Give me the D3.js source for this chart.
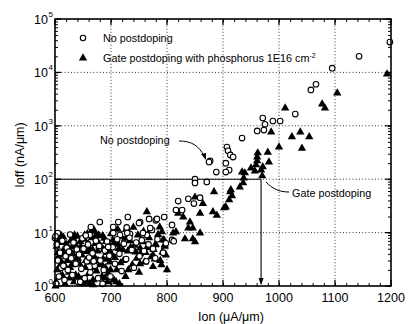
<!DOCTYPE html>
<html><head><meta charset="utf-8">
<script src="https://cdn.jsdelivr.net/npm/d3@7"></script>
<style>body{margin:0;background:#fff}svg{display:block;font-family:"Liberation Sans",Arial,sans-serif}</style>
</head><body><svg id="c" width="410" height="324"></svg>
<script>
// ---- data ----
const xTicks = [600,700,800,900,1000,1100,1200];
const yExps = [0,1,2,3,4,5];
const legendLabels = ["No postdoping","Gate postdoping with phosphorus 1E16 cm"];
// No postdoping (open circles): Ion (uA/um), Ioff (nA/um)
const noIon = [1198,1143,1095,1066,1057,1029,971,975,989,1002,961,973,934,907,909,913,918,905,911,905,877,888,871,875,
 850,850,820,838,848,859,816,827,768,780,795,752,809,773,764,809,730,750,782,770,757,812,
 680,664,662,704,704,723,734,716,729,605,600,713,728,
 601,603,605,607,609,611,613,617,619,621,623,627,629,631,633,637,639,641,643,647,649,651,653,657,659,661,663,667,671,673,677,679,681,687,689,693,697,699,703,707,711,715,719,723,727,733,737,741,745,751,755,759,763,767,775,779,783,793,798,
 602,615,625,645,655,669,685,695];
const noIoff = [37000,20000,12000,6000,4700,1660,1400,1070,1230,1230,800,830,590,400,340,285,260,200,148,136,220,136,89,210,
 100,85,39,43,35,45,26.5,26.5,18,17,19.6,15.8,13.9,11.2,9.0,7.3,19.6,15.1,18,12.2,9.8,6.9,
 15.8,12.7,9.0,12.7,9.8,9.4,9.4,9.0,9.8,9.8,7.9,15.8,12.5,
 8.5,6.0,3.0,1.5,4.2,2.2,7.0,1.3,3.6,5.2,2.0,9.2,3.3,1.6,6.5,2.6,4.8,1.2,3.9,2.1,7.8,5.0,1.4,2.9,6.0,3.4,1.8,4.1,2.4,7.0,1.4,5.6,3.0,2.0,4.6,6.8,3.7,1.5,5.3,2.6,7.5,4.0,1.9,6.2,3.2,8.0,4.7,2.2,6.5,3.6,7.2,4.5,2.9,6.0,5.0,3.3,7.5,4.2,6.3,
 1.1,2.4,4.4,1.2,8.8,2.9,1.1,5.4];
// Gate postdoping (filled triangles)
const gpIon = [1193,1104,1077,1082,1011,986,1038,1023,1054,1041,1000,980,982,962,961,961,971,968,959,957,950,939,934,937,936,930,970,
 914,916,884,913,911,905,850,864,859,882,889,764,841,838,846,859,832,846,850,816,811,787,791,793,796,779,757,752,798,775,752,775,800,829,902,820,
 602,604,606,603,608,610,612,614,616,618,620,615,
 622,624,626,628,630,632,634,636,638,640,625,635,
 642,644,646,648,650,652,654,656,658,645,655,660,
 662,664,666,668,670,672,674,676,678,665,670,680,675,668,
 682,684,686,688,690,692,694,696,698,700,685,695,
 702,706,710,714,718,722,726,730,734,738,742,746,748,712,728,740,705,
 752,756,760,764,768,772,776,780,784,788,792,796,758,770,790,
 601,605,609,613,617,621,627,631,637,641,647,651,657,659,663,667,671,673,677,679,683,687,689,691,693,697,699,
 703,707,709,713,717,721,725,731,735,744,750,762,778,795,606,611,619,633,653,662,686,715];
const gpIoff = [9300,4100,2550,2150,2150,760,760,620,620,380,400,320,210,310,260,220,170,148,185,142,162,131,136,105,85,71,115,
 63,49,58,58,41,30,46,35,23,24.5,21,24.5,15.8,12.2,12.2,9.8,7.6,7.6,6.7,10.3,9.8,12.7,10.3,7.3,5.9,5.9,6.7,5.1,3.8,3.8,2.6,2.3,2.0,19.6,29,23,
 1.2,2.0,3.5,5.5,7.5,1.5,2.8,4.5,6.5,1.1,2.2,8.2,
 3.0,5.0,1.4,7.0,2.5,4.0,1.2,6.0,3.3,8.5,1.8,9.0,
 1.5,2.6,5.5,3.8,1.1,7.5,2.2,4.4,9.5,6.8,3.0,1.7,
 5.0,2.8,8.0,1.3,3.6,6.2,1.9,4.5,9.0,10.5,11,2.5,7.2,1.05,
 5.5,1.5,3.2,7.8,2.2,4.2,1.2,6.0,2.8,9.5,8.7,1.7,
 3.8,6.5,2.0,5.0,8.5,3.0,1.5,4.5,7.0,2.5,5.8,3.3,9.0,11.5,12,12.5,1.3,
 4.0,6.8,2.8,5.2,8.0,3.5,4.8,6.0,9.2,3.0,4.3,5.5,10.5,11,2.5,
 1.0,4.2,2.4,1.6,3.8,6.0,2.2,5.4,1.6,3.3,1.3,4.8,1.2,6.2,3.4,4.8,2.2,8.8,3.0,5.6,2.6,4.8,1.4,6.8,3.2,4.6,2.0,
 7.2,3.4,1.2,6.0,2.7,4.8,7.8,2.0,5.3,4.3,1.8,4.2,3.2,7.2,6.6,8.8,5.0,7.6,9.0,1.1,1.1,1.1];
// annotation guide: Ioff = 100 at Ion = 968
const guideIon = 968, guideIoff = 100;

// ---- layout ----
const svg = d3.select("#c");
const L=55,R=391,T=19,B=286;
const x = d3.scaleLinear().domain([600,1200]).range([L,R]);
const y = d3.scaleLog().domain([1,1e5]).range([B,T]);

// grid
const g = svg.append("g");
xTicks.slice(1,-1).forEach(v=>g.append("line").attr("x1",x(v)).attr("x2",x(v)).attr("y1",T).attr("y2",B)
  .attr("stroke","#000").attr("stroke-width",0.8).attr("stroke-dasharray","1,2.2"));
yExps.slice(1,-1).forEach(e=>g.append("line").attr("x1",L).attr("x2",R).attr("y1",y(10**e)).attr("y2",y(10**e))
  .attr("stroke","#000").attr("stroke-width",0.8).attr("stroke-dasharray","1,2.2"));

// axes with inside ticks
const minorX = d3.range(600,1201,20);
const axB = d3.axisBottom(x).tickValues(minorX).tickSizeInner(-3).tickSizeOuter(0).tickFormat("");
const axT = d3.axisTop(x).tickValues(minorX).tickSizeInner(-3).tickSizeOuter(0).tickFormat("");
const minorY = [];
for(let e=0;e<5;e++) for(let k=1;k<10;k++) minorY.push(k*10**e);
minorY.push(1e5);
const axL = d3.axisLeft(y).tickValues(minorY).tickSizeInner(-3).tickSizeOuter(0).tickFormat("");
const axR = d3.axisRight(y).tickValues(minorY).tickSizeInner(-3).tickSizeOuter(0).tickFormat("");
[[axB,`translate(0,${B})`],[axT,`translate(0,${T})`],[axL,`translate(${L},0)`],[axR,`translate(${R},0)`]].forEach(([a,t])=>{
  const gg = svg.append("g").attr("transform",t).call(a);
  gg.select(".domain").remove();
  gg.selectAll("line").attr("stroke","#000").attr("stroke-width",1);
});
xTicks.forEach(v=>{
  svg.append("line").attr("x1",x(v)).attr("x2",x(v)).attr("y1",B).attr("y2",B-6).attr("stroke","#000").attr("stroke-width",1.2);
  svg.append("line").attr("x1",x(v)).attr("x2",x(v)).attr("y1",T).attr("y2",T+6).attr("stroke","#000").attr("stroke-width",1.2);
});
yExps.forEach(e=>{
  svg.append("line").attr("x1",L).attr("x2",L+6).attr("y1",y(10**e)).attr("y2",y(10**e)).attr("stroke","#000").attr("stroke-width",1.2);
  svg.append("line").attr("x1",R).attr("x2",R-6).attr("y1",y(10**e)).attr("y2",y(10**e)).attr("stroke","#000").attr("stroke-width",1.2);
});

// tick labels
xTicks.forEach(v=>svg.append("text").attr("x",x(v)).attr("y",302).attr("text-anchor","middle").attr("font-size",12.5).text(v));
yExps.forEach(e=>{
  svg.append("text").attr("x",48).attr("y",y(10**e)+5).attr("text-anchor","end").attr("font-size",12.5).text("10");
  svg.append("text").attr("x",48.5).attr("y",y(10**e)-2).attr("font-size",8).text(e);
});
// axis titles
svg.append("text").attr("x",231).attr("y",321).attr("text-anchor","middle").attr("font-size",12.5).text("Ion (\u03bcA/\u03bcm)");
svg.append("text").attr("transform","translate(24,155) rotate(-90)").attr("text-anchor","middle").attr("font-size",12.5).text("Ioff (nA/\u03bcm)");

// guide lines
svg.append("line").attr("x1",x(600)).attr("x2",x(guideIon)).attr("y1",y(guideIoff)).attr("y2",y(guideIoff)).attr("stroke","#000").attr("stroke-width",1.1);
svg.append("line").attr("x1",x(guideIon)).attr("x2",x(guideIon)).attr("y1",y(guideIoff)).attr("y2",y(1)-2).attr("stroke","#000").attr("stroke-width",1.1);
svg.append("path").attr("d",`M${x(guideIon)-2.5},${y(1)-8}L${x(guideIon)+2.5},${y(1)-8}L${x(guideIon)},${y(1)-1}Z`).attr("fill","#000");

// data marks
const tri = d3.symbol().type(d3.symbolTriangle).size(30);
svg.append("g").selectAll("path").data(gpIon.map((v,i)=>[v,gpIoff[i]])).join("path")
  .attr("transform",d=>`translate(${x(d[0])},${y(d[1])})`).attr("d",tri).attr("fill","#000");
svg.append("g").selectAll("circle").data(noIon.map((v,i)=>[v,noIoff[i]])).join("circle")
  .attr("cx",d=>x(d[0])).attr("cy",d=>y(d[1])).attr("r",2.8).attr("fill","#fff").attr("stroke","#000").attr("stroke-width",1.1);

svg.append("rect").attr("x",L).attr("y",T).attr("width",R-L).attr("height",B-T).attr("fill","none").attr("stroke","#000").attr("stroke-width",1.6);

// legend
svg.append("circle").attr("cx",83).attr("cy",38).attr("r",2.7).attr("fill","#fff").attr("stroke","#000").attr("stroke-width",1.1);
svg.append("path").attr("transform","translate(83,58)").attr("d",tri).attr("fill","#000");
svg.append("text").attr("x",103).attr("y",42).attr("font-size",10.8).text(legendLabels[0]);
const lt = svg.append("text").attr("x",103).attr("y",62).attr("font-size",10.8).text(legendLabels[1]);
lt.append("tspan").attr("dy",-4).attr("font-size",7).text("-2");

// annotations
svg.append("text").attr("x",100).attr("y",144).attr("font-size",10.8).text("No postdoping");
svg.append("path").attr("d","M179,141 C192,141 199,146 204,156").attr("fill","none").attr("stroke","#000").attr("stroke-width",1);
svg.append("path").attr("d","M206,160 L201,154 L206,153 Z").attr("fill","#000");
svg.append("text").attr("x",292).attr("y",197).attr("font-size",10.8).text("Gate postdoping");
svg.append("path").attr("d","M266,182 C272,188 278,192 289,192").attr("fill","none").attr("stroke","#000").attr("stroke-width",1);
</script></body></html>
